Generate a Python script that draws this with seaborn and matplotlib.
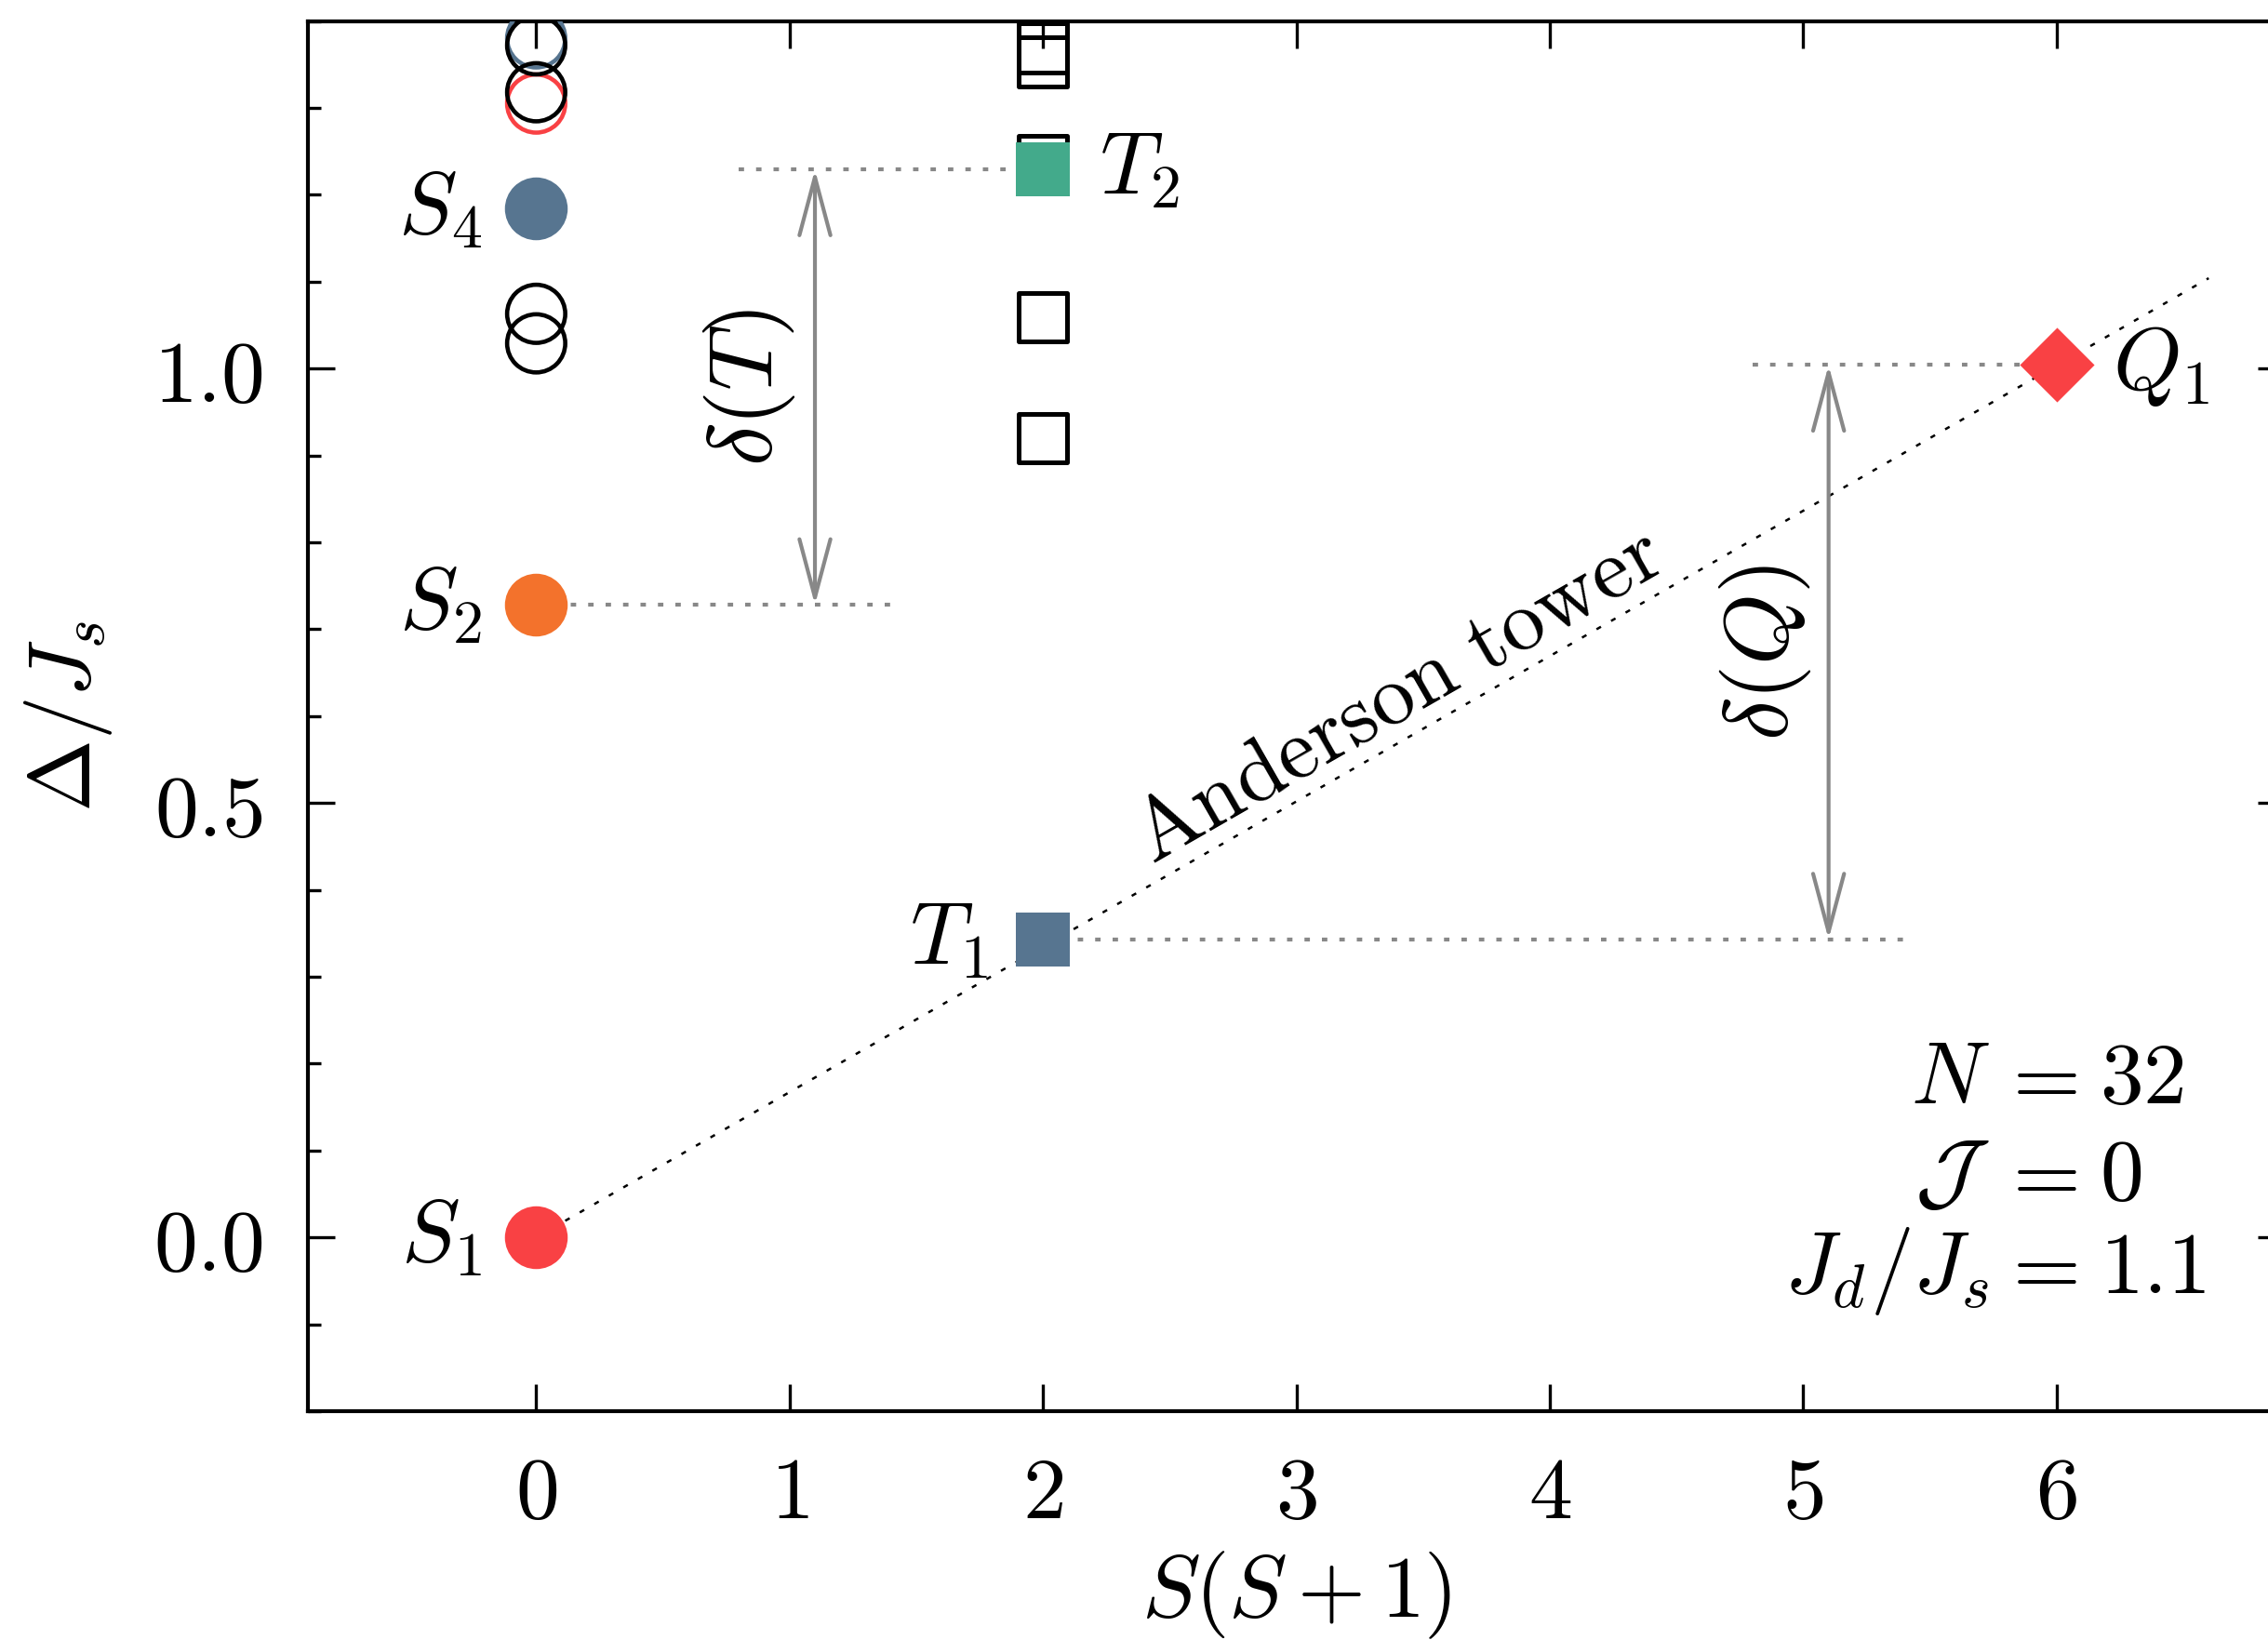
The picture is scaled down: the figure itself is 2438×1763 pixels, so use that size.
import numpy as np
import matplotlib
matplotlib.use("Agg")
import matplotlib.pyplot as plt
from matplotlib.ticker import MultipleLocator, FuncFormatter, NullLocator
import seaborn as sns

# ---------------- data ----------------
# singlets (S(S+1) = 0), highlighted
singlet_x = [0, 0, 0]
singlet_y = [0.0, 0.728, 1.184]
singlet_labels = [r"$S_1$", r"$S_2$", r"$S_4$"]
singlet_colors = ["#F94144", "#F3722C", "#577590"]

# other singlet levels (open circles)
other_singlet_y = [1.029, 1.063, 1.318, 1.372]
colored_open_y = [1.305, 1.380]
colored_open_colors = ["#F94144", "#577590"]

# triplets (S(S+1) = 2)
triplet_x = [2, 2]
triplet_y = [0.343, 1.229]
triplet_labels = [r"$T_1$", r"$T_2$"]
triplet_colors = ["#577590", "#43AA8B"]
other_triplet_y = [0.920, 1.059, 1.240, 1.353, 1.369]

# quintet (S(S+1) = 6)
quintet_x = [6]
quintet_y = [1.004]
quintet_labels = [r"$Q_1$"]
quintet_colors = ["#F94144"]

# Anderson tower guide line
tower_x = [0.0, 6.6]
tower_y = [0.0, 1.104]

# gap guide lines (x-start, x-end, level)
guide_x0 = [0.0, 0.8, 2.0, 4.8]
guide_x1 = [1.4, 2.0, 5.4, 6.0]
guide_y = [0.728, 1.229, 0.343, 1.004]

# gap arrows
arrow_x = [1.1, 5.1]
arrow_lo = [0.728, 0.343]
arrow_hi = [1.229, 1.004]
arrow_text = [r"$\delta(T)$", r"$\delta(Q)$"]
arrow_text_x = [0.84, 4.85]

info_lhs = [r"$N$", r"$\mathcal{J}$", r"$J_d/J_s$"]
info_rhs = [r"$32$", r"$0$", r"$1.1$"]

xticks = [0, 1, 2, 3, 4, 5, 6]
yticks = [0.0, 0.5, 1.0]

# ---------------- style ----------------
sns.set_style("ticks")
plt.rcParams.update({
    "mathtext.fontset": "cm",
    "font.family": ["DejaVu Serif"],
    "font.size": 22.5,
    "text.color": "black",
    "axes.labelcolor": "black",
    "axes.edgecolor": "black",
    "xtick.color": "black",
    "ytick.color": "black",
    "axes.linewidth": 1.0,
    "xtick.major.width": 0.8,
    "ytick.major.width": 0.8,
    "ytick.minor.width": 0.8,
    "xtick.major.size": 7.0,
    "ytick.major.size": 7.0,
    "ytick.minor.size": 3.4,
})
FS = 22.5
GRAY = "#888888"

fig = plt.figure(figsize=(2438 / 300, 1763 / 300), dpi=300)
ax = fig.add_axes([0.13585, 0.1395, 0.87153, 0.8477])
ax.set_xlim(-0.9, 6.9)
ax.set_ylim(-0.2, 1.4)

# Anderson tower line
sns.lineplot(x=tower_x, y=tower_y, ax=ax, color="black", lw=0.6,
             linestyle=(0, (2.2, 5.0)), sort=False, estimator=None, zorder=1)

# gap guides
for x0, x1, yy in zip(guide_x0, guide_x1, guide_y):
    sns.lineplot(x=[x0, x1], y=[yy, yy], ax=ax, color=GRAY, lw=1.0,
                 linestyle=(0, (1.4, 3.1)), sort=False, estimator=None, zorder=1)

# arrows
for xa, lo, hi, txt, tx in zip(arrow_x, arrow_lo, arrow_hi, arrow_text, arrow_text_x):
    ax.annotate("", xy=(xa, hi), xytext=(xa, lo),
                arrowprops=dict(arrowstyle="<->,head_length=0.75,head_width=0.2",
                                color=GRAY, lw=1.0, mutation_scale=20,
                                shrinkA=0, shrinkB=0), zorder=2)
    ax.text(tx, (lo + hi) / 2, txt, rotation=90, ha="center", va="center",
            fontsize=23.5)

# open markers
for yy, cc in zip(colored_open_y, colored_open_colors):
    sns.scatterplot(x=[0], y=[yy], ax=ax, marker="o", s=15.0 ** 2,
                    facecolor="none", edgecolor=cc, linewidth=1.1, zorder=3)
sns.scatterplot(x=[0] * len(other_singlet_y), y=other_singlet_y, ax=ax, marker="o",
                s=15.0 ** 2, facecolor="none", edgecolor="black", linewidth=1.1, zorder=4)
sns.scatterplot(x=[2] * len(other_triplet_y), y=other_triplet_y, ax=ax, marker="s",
                s=12.6 ** 2, facecolor="none", edgecolor="black", linewidth=1.2, zorder=4)

# highlighted markers
for xx, yy, cc in zip(singlet_x, singlet_y, singlet_colors):
    sns.scatterplot(x=[xx], y=[yy], ax=ax, marker="o", s=16.2 ** 2, color=cc,
                    linewidth=0, zorder=5)
for xx, yy, cc in zip(triplet_x, triplet_y, triplet_colors):
    sns.scatterplot(x=[xx], y=[yy], ax=ax, marker="s", s=13.8 ** 2, color=cc,
                    linewidth=0, zorder=5)
for xx, yy, cc in zip(quintet_x, quintet_y, quintet_colors):
    sns.scatterplot(x=[xx], y=[yy], ax=ax, marker="D", s=13.6 ** 2, color=cc,
                    linewidth=0, zorder=5)

# level labels
def lab(x, y, t, side):
    dx = -14.0 if side == "left" else 14.5
    ax.annotate(t, xy=(x, y), xytext=(dx, -6.3), textcoords="offset points",
                ha="right" if side == "left" else "left", va="baseline", fontsize=FS)

for xx, yy, t in zip(singlet_x, singlet_y, singlet_labels):
    lab(xx, yy, t, "left")
lab(triplet_x[0], triplet_y[0], triplet_labels[0], "left")
lab(triplet_x[1], triplet_y[1], triplet_labels[1], "right")
lab(quintet_x[0], quintet_y[0], quintet_labels[0], "right")

# Anderson tower text
p0 = ax.transData.transform((tower_x[0], tower_y[0]))
p1 = ax.transData.transform((tower_x[1], tower_y[1]))
ang = np.degrees(np.arctan2(p1[1] - p0[1], p1[0] - p0[0]))
ax.text(3.40, 0.623, r"$\mathrm{Anderson\ tower}$", rotation=ang,
        rotation_mode="anchor", ha="center", va="center", fontsize=22.3)

# info box (aligned at "=")
info_base = [0.2214, 0.1518, 0.0849]
for l, r, yb in zip(info_lhs, info_rhs, info_base):
    ax.text(0.8507, yb, l, transform=ax.transAxes, ha="right", va="baseline", fontsize=FS)
    ax.text(0.8548, yb, r"$=$", transform=ax.transAxes, ha="left", va="baseline",
            fontsize=FS)
    ax.text(0.9064, yb, r, transform=ax.transAxes, ha="left", va="baseline", fontsize=FS)

# axes formatting
ax.set_xticks(xticks)
ax.set_yticks(yticks)
ax.xaxis.set_major_formatter(FuncFormatter(lambda v, p: r"$%d$" % round(v)))
ax.yaxis.set_major_formatter(FuncFormatter(lambda v, p: r"$%.1f$" % v))
ax.yaxis.set_minor_locator(MultipleLocator(0.1))
ax.xaxis.set_minor_locator(NullLocator())
ax.tick_params(which="both", direction="in", top=True, right=True, labelsize=FS)
ax.tick_params(axis="x", pad=10.5)
ax.tick_params(axis="y", pad=11.5)
for sp in ax.spines.values():
    sp.set_linewidth(1.0)
    sp.set_color("black")

ax.set_xlabel(r"$S(S+1)$", fontsize=FS, va="center")
ax.set_ylabel(r"$\Delta/J_s$", fontsize=FS)
ax.xaxis.set_label_coords(0.5, -0.1325)
ax.yaxis.set_label_coords(-0.098, 0.5)

fig.savefig("out.png", dpi=300)
